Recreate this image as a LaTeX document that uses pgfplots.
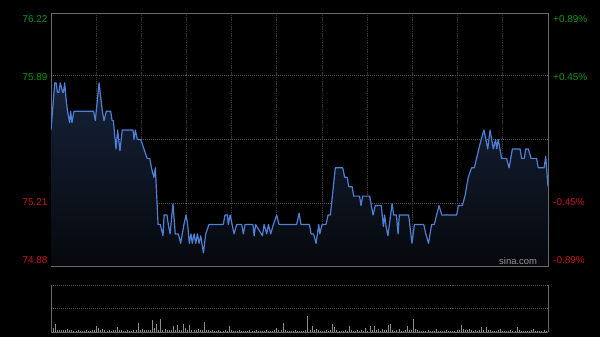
\documentclass[border=0pt]{standalone}
\usepackage{pgfplots}
\pgfplotsset{compat=1.18}
\usepackage{fontspec}
\setmainfont{Liberation Sans}
\definecolor{upg}{RGB}{16,150,16}
\definecolor{dnr}{RGB}{200,20,20}
\definecolor{ln}{RGB}{78,128,214}
\definecolor{fr}{RGB}{105,105,105}
\definecolor{vg}{RGB}{48,48,48}
\definecolor{hg}{RGB}{85,85,85}
\definecolor{pc}{RGB}{115,115,115}
\definecolor{vb}{RGB}{140,140,140}
\definecolor{ftop}{RGB}{22,34,58}
\definecolor{fbot}{RGB}{6,8,12}
\pgfplotstableread{
x y
0 75.60
1.8 75.85
2.5 75.85
3.1 75.80
3.8 75.80
4.5 75.85
5.6 75.80
6.0 75.80
6.6 75.85
7.4 75.75
8.0 75.70
9.0 75.64
9.5 75.70
10.1 75.64
11.1 75.70
20.6 75.70
21.4 75.65
23.2 75.85
24.8 75.70
25.6 75.65
26.7 75.70
28.8 75.70
29.5 75.65
30.1 75.65
31.4 75.50
32.2 75.60
33.3 75.49
34.4 75.60
39.6 75.60
40.1 75.55
40.7 75.60
41.7 75.55
43.3 75.55
45.2 75.49
46.4 75.45
47.7 75.45
48.5 75.40
49.7 75.35
50.4 75.40
51.7 75.10
52.8 75.10
54.1 75.04
54.6 75.15
56.0 75.15
56.8 75.09
57.5 75.05
58.9 75.21
60.0 75.05
61.5 75.05
62.6 75.00
63.4 75.05
64.2 75.10
65.2 75.15
66.0 75.10
66.8 75.00
67.6 75.05
68.2 75.00
69.1 75.05
69.9 75.00
70.7 75.05
71.5 75.00
72.3 75.04
73.6 74.95
74.7 75.05
76.3 75.10
83.2 75.10
84.0 75.15
85.2 75.15
85.6 75.10
86.5 75.15
88.4 75.05
89.7 75.10
92.1 75.10
92.9 75.05
93.7 75.10
97.5 75.10
98.1 75.04
98.8 75.10
102.1 75.04
102.9 75.10
104.2 75.05
105.0 75.10
106.1 75.05
107.4 75.10
109.0 75.15
110.1 75.10
118.6 75.10
119.8 75.16
120.7 75.10
124.8 75.10
125.6 75.05
126.8 75.05
128.0 75.00
129.3 75.10
129.8 75.05
130.9 75.10
132.8 75.10
133.8 75.15
134.9 75.15
137.3 75.40
140.9 75.40
141.8 75.35
143.0 75.35
143.8 75.30
145.4 75.30
146.2 75.25
149.0 75.25
149.7 75.20
150.5 75.25
153.9 75.25
155.5 75.15
156.6 75.20
159.5 75.20
160.5 75.09
161.1 75.15
161.8 75.09
162.7 75.04
163.4 75.10
164.7 75.21
165.5 75.15
166.8 75.15
167.6 75.05
168.2 75.15
172.7 75.15
174.3 75.00
175.5 75.10
180.0 75.10
181.0 75.05
182.3 75.00
183.8 75.10
185.1 75.10
186.2 75.15
187.4 75.20
188.7 75.15
195.9 75.15
196.7 75.20
198.6 75.20
199.9 75.25
201.5 75.35
203.1 75.40
204.4 75.40
205.5 75.45
206.6 75.50
207.7 75.55
209.1 75.60
210.9 75.50
212.0 75.60
213.6 75.50
214.7 75.55
215.2 75.50
216.0 75.55
217.6 75.45
220.0 75.45
221.2 75.40
222.8 75.50
226.5 75.50
227.3 75.45
228.6 75.45
229.2 75.50
230.5 75.50
231.8 75.45
234.5 75.45
235.3 75.40
238.1 75.40
238.9 75.46
240 75.30
}\pricetab
\pgfplotstableread{
x y
0 11
1 4
2 7.7
3 2
4 2
5 1.5
6 1.5
7 2
8 3
9 2
10 1.5
11 1
12 1
13 1.5
14 1
15 1
16 1
17 1.5
18 1
19 1
20 1.5
21 2
22 6
23 4
24 2
25 3
26 1.5
27 1
28 1.5
29 1
30 1.5
31 2
32 5.3
33 2
34 1.5
35 1
36 1
37 1.5
38 1
39 1
40 1.5
41 2
42 8.7
43 2
44 3
45 1.5
46 1.5
47 2
48 2
49 12
50 3.5
51 8
52 2
53 12.7
54 2
55 3
56 2
57 1.5
58 2
59 6
60 2
61 7
62 2
63 2
64 7.7
65 3.5
66 2
67 7
68 2
69 1.5
70 1.5
71 3
72 2
73 1.5
74 10
75 2
76 1.5
77 1
78 1.5
79 1
80 1
81 1.5
82 1
83 1
84 1.5
85 1
86 6.3
87 1.5
88 1
89 1
90 1
91 1.5
92 1
93 1
94 1
95 1
96 1.5
97 1
98 1
99 1.5
100 1
101 1
102 1
103 1
104 1.5
105 1
106 1
107 1
108 1.5
109 4.3
110 1.5
111 2
112 9.3
113 1.5
114 1
115 1
116 1
117 1
118 1.5
119 1
120 1
121 1
122 1
123 1.5
124 16
125 2
126 6.3
127 1.5
128 2.5
129 1.5
130 1
131 1
132 1
133 1.5
134 1
135 2
136 8
137 5
138 1.5
139 1
140 1
141 1
142 1.5
143 1
144 6.3
145 1.5
146 1
147 1
148 2
149 1
150 1.5
151 1
152 3.5
153 1
154 6.3
155 1.5
156 6.3
157 1.5
158 2.7
159 1
160 3
161 1.5
162 1.5
163 7
164 7.7
165 1.5
166 1
167 1.5
168 3
169 1
170 1
171 1.5
172 6.3
173 2
174 2
175 13
176 3
177 1.5
178 1
179 1
180 1
181 1
182 1.5
183 1
184 1
185 1
186 2.7
187 1
188 1
189 1
190 1
191 1.5
192 1
193 1
194 1
195 1
196 1.5
197 2
198 7
199 3
200 1.5
201 1.5
202 2.7
203 1.5
204 1
205 1.5
206 1
207 2
208 4.7
209 2
210 4.7
211 2
212 1.5
213 1
214 1
215 1
216 1.5
217 2.5
218 1
219 1
220 1
221 1
222 1.5
223 1
224 1
225 4.7
226 1.5
227 1
228 1
229 1
230 1
231 1
232 1.5
233 2.5
234 1
235 1
236 1
237 1
238 1.5
239 1
240 1
}\voltab
\begin{document}
\begin{tikzpicture}
\fill[black] (0,0) rectangle (600bp,337bp);
\path[use as bounding box] (0,0) rectangle (600bp,337bp);
\begin{axis}[at={(51bp,71bp)}, anchor=south west, scale only axis,
  width=497bp, height=253bp,
  xmin=0, xmax=240, ymin=74.88, ymax=76.22,
  xtick={21.818,43.636,65.455,87.273,109.091,130.909,152.727,174.545,196.364,218.182},
  xticklabels={}, ytick={75.89,75.21}, yticklabels={},
  major tick length=0,
  xmajorgrids, ymajorgrids,
  x grid style={vg, dash pattern=on 1.5pt off 0.8pt, line width=0.9pt},
  y grid style={hg, dash pattern=on 0.8pt off 1.2pt, line width=0.6pt},
  extra y ticks={75.55}, extra y tick labels={},
  extra y tick style={major grid style={pc, dash pattern=on 3pt off 1pt on 0.8pt off 1pt, line width=0.6pt}},
  axis line style={fr, line width=0.8pt}]
\addplot[draw=none, top color=ftop, bottom color=fbot] table[x=x,y=y] {\pricetab} |- (axis cs:0,74.88) -- cycle;
\addplot[ln, line width=1.2pt, line join=round] table[x=x,y=y] {\pricetab};
\end{axis}
\begin{axis}[at={(51bp,5bp)}, anchor=south west, scale only axis,
  width=497bp, height=47bp,
  xmin=0, xmax=240, ymin=0, ymax=47,
  xtick=\empty, ytick=\empty, axis line style={draw=none}, clip=false]
\draw[hg, dash pattern=on 0.8pt off 1.2pt, line width=0.6pt] (axis cs:0,47) -- (axis cs:240,47);
\draw[hg, dash pattern=on 0.8pt off 1.2pt, line width=0.6pt] (axis cs:0,23.5) -- (axis cs:240,23.5);
\addplot[ycomb, vb, line width=0.7pt, mark=none] table[x=x,y=y] {\voltab};
\draw[fr, line width=0.8pt] (axis cs:0,0) -- (axis cs:240,0);
\draw[fr, line width=0.8pt] (axis cs:0,0) -- (axis cs:0,47);
\draw[fr, line width=0.8pt] (axis cs:240,0) -- (axis cs:240,47);
\end{axis}
\begin{scope}[every node/.style={inner sep=0pt, font=\fontsize{10}{12}\selectfont}]
\node[anchor=east, text=upg] at (47.7bp,318.2bp) {76.22};
\node[anchor=east, text=upg] at (47.7bp,260bp) {75.89};
\node[anchor=east, text=dnr] at (47.7bp,134.5bp) {75.21};
\node[anchor=east, text=dnr] at (47.7bp,77bp) {74.88};
\node[anchor=west, text=upg] at (553bp,318.2bp) {+0.89\%};
\node[anchor=west, text=upg] at (553bp,260bp) {+0.45\%};
\node[anchor=west, text=dnr] at (553bp,134.5bp) {-0.45\%};
\node[anchor=west, text=dnr] at (553bp,77bp) {-0.89\%};
\node[anchor=west, text={rgb,255:red,150;green,150;blue,150}, font=\fontsize{9.5}{11}\selectfont] at (499bp,75.5bp) {sina.com};
\end{scope}
\end{tikzpicture}
\end{document}
